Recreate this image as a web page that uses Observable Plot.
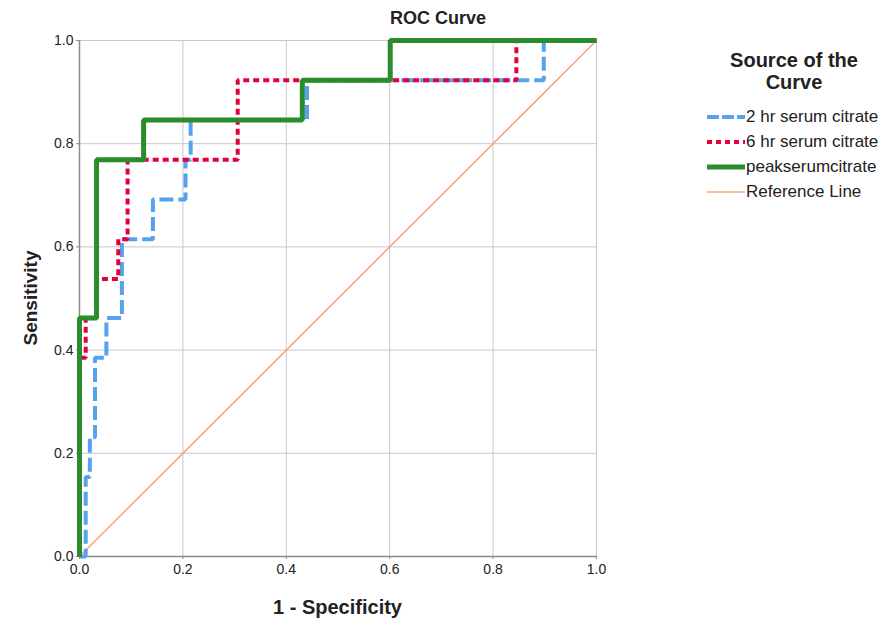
<!DOCTYPE html>
<html>
<head>
<meta charset="utf-8">
<script src="https://cdn.jsdelivr.net/npm/d3@7"></script>
<script src="https://cdn.jsdelivr.net/npm/@observablehq/plot@0.6"></script>
<style>
  html, body { margin: 0; padding: 0; background: #fff; }
  #wrap { position: relative; width: 880px; height: 624px; font-family: Arial, "Liberation Sans", sans-serif; color: #222; }
  #wrap svg.plot { position: absolute; left: 0; top: 0; }
  #wrap svg.plot text { font-size: 14px !important; fill: #222; font-family: Arial, "Liberation Sans", sans-serif; }
  .t { position: absolute; white-space: nowrap; }
  #title { left: 0; width: 876px; top: 8px; text-align: center; font-weight: bold; font-size: 18px; }
  #xlab { left: 79px; width: 517px; top: 596px; text-align: center; font-weight: bold; font-size: 20px; }
  #ylab { left: 31px; top: 298px; font-weight: bold; font-size: 19px; transform: translate(-50%, -50%) rotate(-90deg); }
  #legtitle { left: 700px; width: 188px; top: 49px; text-align: center; font-weight: bold; font-size: 20px; line-height: 22px; }
  .leg { position: absolute; left: 707px; height: 20px; display: flex; align-items: center; font-size: 17px; }
  .leg svg { margin-right: 1px; }
</style>
</head>
<body>
<div id="wrap"></div>
<script>
// ROC data (1 - Specificity, Sensitivity) for each source
const series = ["2 hr serum citrate", "6 hr serum citrate", "peakserumcitrate"];
const fpr2hr = [0, 0.012, 0.02, 0.03, 0.052, 0.082, 0.142, 0.205, 0.215, 0.44, 0.898, 1];
const tpr2hr = [0, 0.154, 0.231, 0.385, 0.462, 0.615, 0.692, 0.769, 0.846, 0.923, 1, 1];
const fpr6hr = [0, 0, 0.012, 0.033, 0.075, 0.093, 0.306, 0.845, 1];
const tpr6hr = [0, 0.385, 0.462, 0.538, 0.615, 0.769, 0.923, 1, 1];
const fprPeak = [0, 0, 0.033, 0.124, 0.431, 0.601, 1];
const tprPeak = [0, 0.462, 0.769, 0.846, 0.923, 1, 1];
const refLine = [0, 1];
const tickValues = [0, 0.2, 0.4, 0.6, 0.8, 1.0];
const gridValues = [0.2, 0.4, 0.6, 0.8, 1.0];

const colors = ["#55a2ee", "#e6003b", "#2a8c2a"];
const refColor = "#f6a47c";
const styles = [
  {strokeWidth: 4, strokeDasharray: "14,5"},
  {strokeWidth: 4, strokeDasharray: "6,4"},
  {strokeWidth: 5, strokeDasharray: null}
];

const toRows = (xs, ys) => xs.map((x, i) => ({x, y: ys[i]}));
const curves = [toRows(fpr2hr, tpr2hr), toRows(fpr6hr, tpr6hr), toRows(fprPeak, tprPeak)];

const plot = Plot.plot({
  width: 880,
  height: 624,
  marginLeft: 79,
  marginRight: 284,
  marginTop: 40,
  marginBottom: 68,
  x: {domain: [0, 1]},
  y: {domain: [0, 1]},
  style: {fontFamily: "Arial, 'Liberation Sans', sans-serif", fontSize: "14px", color: "#222"},
  marks: [
    Plot.gridX(gridValues, {stroke: "#c8c8c8", strokeOpacity: 1, strokeWidth: 1}),
    Plot.gridY(gridValues, {stroke: "#c8c8c8", strokeOpacity: 1, strokeWidth: 1}),
    Plot.ruleX([0], {stroke: "#8a8a8a", strokeWidth: 1.5}),
    Plot.ruleY([0], {stroke: "#8a8a8a", strokeWidth: 1.5}),
    Plot.axisX({ticks: tickValues, tickFormat: d3.format(".1f"), tickSize: 3, tickPadding: 5, label: null, stroke: "#8a8a8a", fontSize: 14}),
    Plot.axisY({ticks: tickValues, tickFormat: d3.format(".1f"), tickSize: 3, tickPadding: 3, label: null, stroke: "#8a8a8a", fontSize: 14}),
    Plot.line(refLine.map(v => ({x: v, y: v})), {x: "x", y: "y", stroke: refColor, strokeWidth: 1.5}),
    ...curves.map((c, i) => Plot.line(c, {x: "x", y: "y", curve: "step-after", stroke: colors[i], strokeWidth: styles[i].strokeWidth, strokeDasharray: styles[i].strokeDasharray, strokeLinecap: "butt", strokeLinejoin: "miter"}))
  ]
});
plot.classList.add("plot");

const wrap = document.getElementById("wrap");
wrap.appendChild(plot);

function addText(id, text) {
  const d = document.createElement("div");
  d.className = "t"; d.id = id; d.innerHTML = text;
  wrap.appendChild(d);
}
addText("title", "ROC Curve");
addText("xlab", "1 - Specificity");
addText("ylab", "Sensitivity");
addText("legtitle", "Source of the<br>Curve");

const legendItems = [
  ...series.map((s, i) => ({label: s, color: colors[i], width: styles[i].strokeWidth, dash: styles[i].strokeDasharray})),
  {label: "Reference Line", color: refColor, width: 1.5, dash: null}
];
const legendTops = [107, 132, 157, 182];
legendItems.forEach((it, i) => {
  const d = document.createElement("div");
  d.className = "leg";
  d.style.top = legendTops[i] + "px";
  d.innerHTML = `<svg width="38" height="10"><line x1="0" x2="38" y1="5" y2="5" stroke="${it.color}" stroke-width="${it.width}" ${it.dash ? `stroke-dasharray="${it.label.startsWith('2') ? '12,3' : '5,4'}"` : ""}/></svg><span>${it.label}</span>`;
  wrap.appendChild(d);
});
</script>
</body>
</html>
